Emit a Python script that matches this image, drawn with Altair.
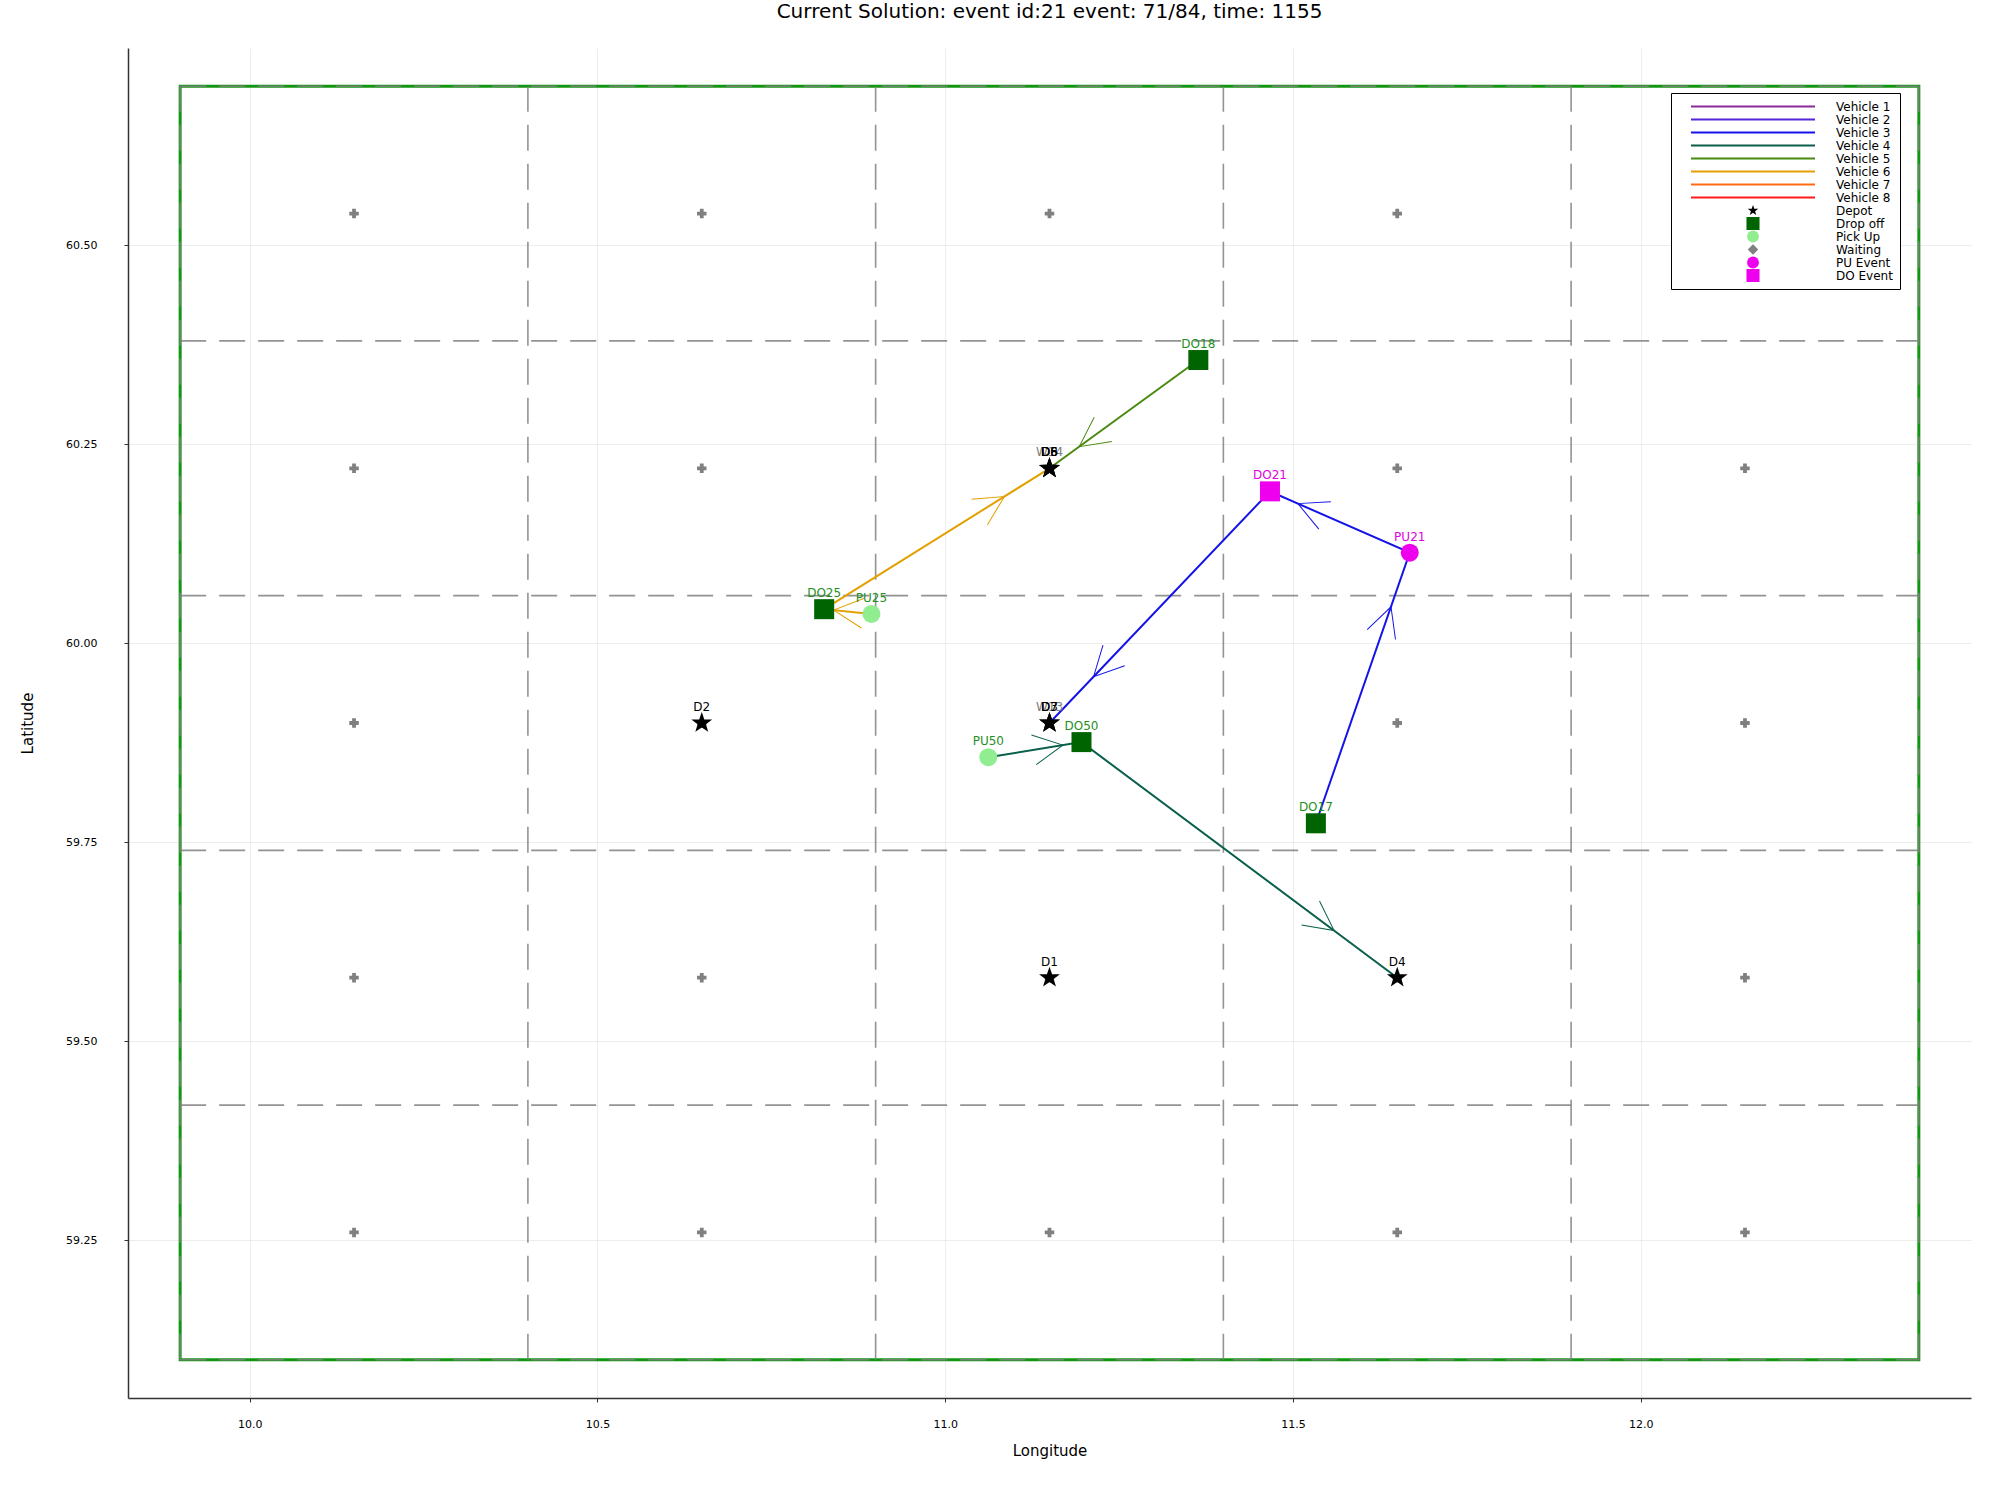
import math
import altair as alt
import pandas as pd

TITLE = "Current Solution: event id:21 event: 71/84, time: 1155"
FONT = "DejaVu Sans"

# ---------------- data ----------------
vehicle_names = ["Vehicle 1", "Vehicle 2", "Vehicle 3", "Vehicle 4",
                 "Vehicle 5", "Vehicle 6", "Vehicle 7", "Vehicle 8"]
vehicle_colors = ["#8c2a9c", "#5226d8", "#1414e8", "#0a5f4c",
                  "#4a8a10", "#e3a000", "#ff6a14", "#ff1a1a"]

marker_types = ["Depot", "Drop off", "Pick Up", "Waiting", "PU Event", "DO Event"]
marker_colors = ["#000000", "#006400", "#90ee90", "#808080", "#ee00ee", "#ee00ee"]
label_colors = ["#000000", "#1f8f1f", "#1f8f1f", "#808080", "#e000e0", "#e000e0"]

zone_lon_edges = [9.9, 10.4, 10.9, 11.4, 11.9, 12.4]
zone_lat_edges = [59.1, 59.42, 59.74, 60.06, 60.38, 60.7]

wait_lon = [10.15, 10.65, 11.15, 11.65, 12.15]
wait_lat = [59.26, 59.58, 59.90, 60.22, 60.54]
wait_labelled = ["W13", "W14"]

depot_names = ["D1", "D2", "D3", "D4", "D5", "D6", "D7", "D8"]
depot_lon = [11.15, 10.65, 11.15, 11.65, 11.15, 11.15, 11.15, 11.15]
depot_lat = [59.58, 59.90, 59.90, 59.58, 60.22, 60.22, 59.90, 60.22]

req_names = ["DO18", "DO25", "PU25", "PU50", "DO50", "DO17", "PU21", "DO21"]
req_lon = [11.364, 10.826, 10.894, 11.062, 11.196, 11.533, 11.668, 11.467]
req_lat = [60.356, 60.043, 60.037, 59.857, 59.876, 59.774, 60.114, 60.191]
req_type = ["Drop off", "Drop off", "Pick Up", "Pick Up", "Drop off",
            "Drop off", "PU Event", "DO Event"]

route_vehicle = ["Vehicle 3"] * 4 + ["Vehicle 4"] * 3 + ["Vehicle 5"] * 2 + ["Vehicle 6"] * 3
route_stop = ["DO17", "PU21", "DO21", "D3",
              "PU50", "DO50", "D4",
              "DO18", "D6",
              "PU25", "DO25", "D6"]

x_ticks = [10.0, 10.5, 11.0, 11.5, 12.0]
y_ticks = [59.25, 59.5, 59.75, 60.0, 60.25, 60.5]

# ---------------- layout / symbols ----------------
W, H = 1843, 1350
X_DOMAIN = [9.825, 12.475]
Y_DOMAIN = [59.052, 60.748]
KX = W / (X_DOMAIN[1] - X_DOMAIN[0])
KY = H / (Y_DOMAIN[1] - Y_DOMAIN[0])


def star_path(inner=0.4):
    pts = []
    for k in range(10):
        r = 1.0 if k % 2 == 0 else inner
        a = math.radians(-90 + 36 * k)
        pts.append(f"{r * math.cos(a):.4f},{r * math.sin(a):.4f}")
    return "M" + "L".join(pts) + "Z"


STAR = star_path()
plot_shapes = [STAR, "square", "circle", "cross", "circle", "square"]
legend_shapes = [STAR, "square", "circle", "diamond", "circle", "square"]

# ---------------- tables ----------------
coords = {}
for n, lo, la in zip(depot_names, depot_lon, depot_lat):
    coords[n] = (lo, la)
for n, lo, la in zip(req_names, req_lon, req_lat):
    coords[n] = (lo, la)

points = []
labels = []
for ci, lo in enumerate(wait_lon):
    for ri, la in enumerate(wait_lat):
        name = f"W{ci * 5 + ri + 1}"
        points.append({"series": "Waiting", "lon": lo, "lat": la})
        if name in wait_labelled:
            labels.append({"series": "Waiting", "lon": lo, "lat": la, "label": name})
for n, lo, la in zip(depot_names, depot_lon, depot_lat):
    points.append({"series": "Depot", "lon": lo, "lat": la})
    labels.append({"series": "Depot", "lon": lo, "lat": la, "label": n})
for n, lo, la, t in zip(req_names, req_lon, req_lat, req_type):
    points.append({"series": t, "lon": lo, "lat": la})
    labels.append({"series": t, "lon": lo, "lat": la, "label": n})
points_df = pd.DataFrame(points)
labels_df = pd.DataFrame(labels)

route_rows = []
for i, (v, s) in enumerate(zip(route_vehicle, route_stop)):
    lo, la = coords[s]
    route_rows.append({"vehicle": v, "step": i, "lon": lo, "lat": la})
route_df = pd.DataFrame(route_rows)

arrow_rows = []
for i in range(len(route_vehicle) - 1):
    if route_vehicle[i] != route_vehicle[i + 1]:
        continue
    a = coords[route_stop[i]]
    b = coords[route_stop[i + 1]]
    lo = a[0] + 0.8 * (b[0] - a[0])
    la = a[1] + 0.8 * (b[1] - a[1])
    dx = (b[0] - a[0]) * KX
    dy = -(b[1] - a[1]) * KY
    ang = math.degrees(math.atan2(dy, dx)) % 360
    arrow_rows.append({"vehicle": route_vehicle[i], "lon": lo, "lat": la, "ang": ang})
arrow_df = pd.DataFrame(arrow_rows)

vlines_df = pd.DataFrame({"lon": zone_lon_edges,
                          "lat0": [zone_lat_edges[0]] * len(zone_lon_edges),
                          "lat1": [zone_lat_edges[-1]] * len(zone_lon_edges)})
hlines_df = pd.DataFrame({"lat": zone_lat_edges,
                          "lon0": [zone_lon_edges[0]] * len(zone_lat_edges),
                          "lon1": [zone_lon_edges[-1]] * len(zone_lat_edges)})
border_df = pd.DataFrame({"lon0": [zone_lon_edges[0]], "lon1": [zone_lon_edges[-1]],
                          "lat0": [zone_lat_edges[0]], "lat1": [zone_lat_edges[-1]]})

# ---------------- encodings ----------------
lon_scale = alt.Scale(domain=X_DOMAIN, nice=False, zero=False)
lat_scale = alt.Scale(domain=Y_DOMAIN, nice=False, zero=False)
x_axis = alt.Axis(title="Longitude", values=x_ticks, format=".1f", tickSize=4,
                  labelPadding=16, titlePadding=14)
y_axis = alt.Axis(title="Latitude", values=y_ticks, format=".2f", tickSize=4,
                  labelPadding=27, titlePadding=30)


def X(field):
    return alt.X(f"{field}:Q", scale=lon_scale, axis=x_axis)


def Y(field):
    return alt.Y(f"{field}:Q", scale=lat_scale, axis=y_axis)


veh_scale = alt.Scale(domain=vehicle_names, range=vehicle_colors)

border = alt.Chart(border_df).mark_rect(filled=False, stroke="#129612", strokeWidth=3).encode(
    x=X("lon0"), x2="lon1", y=Y("lat0"), y2="lat1")

vlines = alt.Chart(vlines_df).mark_rule(color="#808080", strokeWidth=1.6, strokeDash=[26, 13],
                                        opacity=0.85).encode(
    x=X("lon"), y=Y("lat0"), y2="lat1")
hlines = alt.Chart(hlines_df).mark_rule(color="#808080", strokeWidth=1.6, strokeDash=[26, 13],
                                        opacity=0.85).encode(
    y=Y("lat"), x=X("lon0"), x2="lon1")

routes = alt.Chart(route_df).mark_line(strokeWidth=2).encode(
    x=X("lon"), y=Y("lat"),
    color=alt.Color("vehicle:N", scale=veh_scale, legend=None),
    detail="vehicle:N", order="step:Q")

ARROW_PATH = "M-1,-0.51L0,0L-1,0.51"
arrows = alt.Chart(arrow_df).mark_point(shape=ARROW_PATH, filled=False, size=3457,
                                        strokeWidth=1, opacity=1).encode(
    x=X("lon"), y=Y("lat"),
    color=alt.Color("vehicle:N", scale=veh_scale, legend=None),
    angle=alt.Angle("ang:Q", scale=None))

pts = alt.Chart(points_df).mark_point(filled=True, opacity=1, strokeWidth=0).encode(
    x=X("lon"), y=Y("lat"),
    color=alt.Color("series:N", scale=alt.Scale(domain=marker_types, range=marker_colors), legend=None),
    shape=alt.Shape("series:N", scale=alt.Scale(domain=marker_types, range=plot_shapes), legend=None),
    size=alt.Size("series:N", sort=marker_types,
                  scale=alt.Scale(type="ordinal", domain=marker_types,
                                  range=[480, 400, 324, 90, 324, 400]), legend=None))

txt = alt.Chart(labels_df).mark_text(font=FONT, fontSize=12, baseline="middle", dy=-16).encode(
    x=X("lon"), y=Y("lat"), text="label:N",
    color=alt.Color("series:N", scale=alt.Scale(domain=marker_types, range=label_colors), legend=None))

# legend-only layer (its data is filtered away; it only feeds the legend)
leg_domain = vehicle_names + marker_types
leg_colors = vehicle_colors + marker_colors
leg_shapes = ["stroke"] * 8 + legend_shapes
leg_sizes = [15376] * 8 + [121, 170, 140, 110, 140, 170]
leg_sw = [2] * 8 + [0] * 6
NBSP = "\u00a0"
leg = alt.Legend(title=None, orient="none", legendX=1543, legendY=45, padding=7,
                 fillColor="white", strokeColor="black", clipHeight=13, rowPadding=0,
                 labelFont=FONT, labelFontSize=12, labelColor="black",
                 labelOffset=20, symbolOffset=12,
                 labelExpr="datum.label + '" + NBSP * 3 + "'")
legend_layer = alt.Chart(points_df).transform_filter("false").mark_point(
    filled=True, opacity=1).encode(
    x=X("lon"), y=Y("lat"),
    color=alt.Color("series:N", sort=leg_domain,
                    scale=alt.Scale(domain=leg_domain, range=leg_colors), legend=leg),
    stroke=alt.Stroke("series:N", sort=leg_domain,
                      scale=alt.Scale(domain=leg_domain, range=leg_colors), legend=leg),
    shape=alt.Shape("series:N", sort=leg_domain,
                    scale=alt.Scale(domain=leg_domain, range=leg_shapes), legend=leg),
    size=alt.Size("series:N", sort=leg_domain,
                  scale=alt.Scale(type="ordinal", domain=leg_domain, range=leg_sizes), legend=leg),
    strokeWidth=alt.StrokeWidth("series:N", sort=leg_domain,
                                scale=alt.Scale(type="ordinal", domain=leg_domain, range=leg_sw),
                                legend=leg),
)

chart = alt.layer(border, vlines, hlines, routes, arrows, pts, txt, legend_layer).resolve_scale(
    color="independent", shape="independent", size="independent",
    stroke="independent", strokeWidth="independent"
).properties(
    width=W, height=H,
    title=alt.TitleParams(text=TITLE, fontSize=20, font=FONT, fontWeight="normal",
                          offset=26, anchor="middle", color="black"),
    padding={"left": 20, "top": 2, "right": 28, "bottom": 10},
).configure_view(stroke=None).configure_axis(
    labelFont=FONT, labelFontSize=11, labelColor="black",
    titleFont=FONT, titleFontSize=15, titleFontWeight="normal", titleColor="black",
    domainColor="#333333", domainWidth=1.5, tickColor="#333333",
    gridColor="#000000", gridOpacity=0.07,
)

chart.save("out.html", embed_options={"renderer": "svg", "actions": False})
